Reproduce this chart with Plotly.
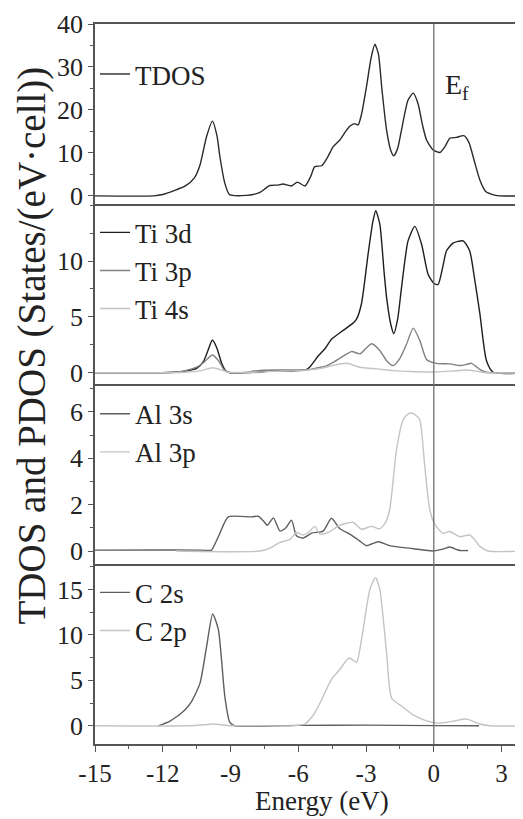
import plotly.graph_objects as go
from plotly.subplots import make_subplots

# ---------------- data ----------------
tdos_e = [-15, -12.4, -12.0, -11.5, -11.0, -10.6, -10.35, -10.06, -9.8, -9.6, -9.47, -9.25, -9.05, -8.8,
          -8.3, -8.0, -7.7, -7.26, -6.9, -6.67, -6.3, -6.04, -5.7, -5.45, -5.27, -4.97, -4.7, -4.46,
          -4.16, -3.9, -3.72, -3.5, -3.35, -3.2, -2.98, -2.78, -2.61, -2.45, -2.3, -2.09, -1.9, -1.77,
          -1.6, -1.43, -1.14, -0.91, -0.7, -0.5, -0.32, -0.03, 0.27, 0.5, 0.71, 1.0, 1.33, 1.55, 1.8,
          2.04, 2.3, 2.6, 2.9, 4]
tdos_v = [0, 0, 0.3, 1.2, 2.3, 4.2, 7.2, 13.8, 17.4, 14.0, 9.1, 2.9, 0.3, 0.05,
          0.1, 0.3, 0.8, 2.4, 2.5, 2.75, 2.3, 3.2, 2.3, 4.5, 6.8, 7.0, 9.0, 11.4,
          13.0, 15.0, 16.2, 16.8, 16.5, 19.0, 25.4, 32.0, 35.3, 33.0, 25.0, 15.3, 10.5, 9.3,
          11.0, 15.3, 22.3, 23.9, 21.5, 16.5, 13.0, 10.7, 10.1, 11.5, 13.4, 13.6, 14.0, 12.5, 8.0,
          3.7, 1.0, 0.3, 0, 0]

ti3d_e = [-15, -12, -11.5, -11, -10.5, -10.2, -10.0, -9.8, -9.6, -9.4, -9.2, -9.0, -8.5, -7.8, -7,
          -6.5, -6, -5.7, -5.5, -5.12, -4.8, -4.53, -4.01, -3.6, -3.42, -3.2, -2.91, -2.7, -2.57,
          -2.39, -2.2, -2.09, -1.9, -1.77, -1.6, -1.43, -1.14, -0.84, -0.54, -0.25, 0.0, 0.19, 0.4,
          0.56, 0.85, 1.3, 1.59, 1.8, 2.04, 2.33, 2.63, 4]
ti3d_v = [0, 0, 0.05, 0.15, 0.4, 1.0, 2.0, 2.93, 2.2, 0.9, 0.15, 0, 0, 0.05, 0.2,
          0.15, 0.2, 0.25, 0.5, 1.5, 2.2, 3.0, 3.8, 4.4, 4.8, 6.2, 10.6, 13.5, 14.5,
          13.3, 9.0, 6.75, 4.3, 3.5, 4.8, 7.6, 11.8, 13.1, 11.5, 8.8, 8.0, 7.9, 9.5,
          10.9, 11.6, 11.8, 10.9, 8.5, 5.3, 1.1, 0.05, 0]

ti3p_e = [-15, -12, -11.5, -11, -10.5, -10.2, -9.8, -9.5, -9.3, -9.1, -8.5, -7.8, -7, -6, -5.5,
          -5.0, -4.75, -4.4, -4.08, -3.64, -3.27, -3.0, -2.75, -2.39, -2.1, -1.8, -1.5, -1.2, -0.91,
          -0.62, -0.32, 0.12, 0.71, 1.15, 1.45, 1.67, 1.85, 2.04, 2.33, 2.6, 4]
ti3p_v = [0, 0, 0.05, 0.2, 0.5, 0.9, 1.6, 1.0, 0.3, 0.05, 0, 0.2, 0.25, 0.25, 0.3,
          0.5, 0.63, 1.0, 1.4, 1.9, 1.7, 2.2, 2.6, 2.0, 1.1, 0.64, 1.3, 2.6, 4.0,
          2.9, 1.2, 0.85, 0.8, 0.65, 0.75, 0.85, 0.6, 0.3, 0.05, 0, 0]

ti4s_e = [-15, -12, -11, -10.3, -9.8, -9.4, -9.1, -8, -7, -6, -5, -4.4, -3.85, -3.27, -2.5, -1.8,
          -1, 0, 0.8, 1.4, 1.9, 2.3, 4]
ti4s_v = [0, 0, 0.05, 0.2, 0.45, 0.25, 0.05, 0.05, 0.15, 0.2, 0.4, 0.7, 0.85, 0.5, 0.35, 0.2,
          0.12, 0.08, 0.15, 0.25, 0.15, 0, 0]

al3s_e = [-15, -10.3, -10.0, -9.84, -9.5, -9.1, -8.07, -7.77, -7.55, -7.37, -7.1, -6.81, -6.55,
          -6.3, -6.08, -5.78, -5.41, -4.9, -4.53, -4.16, -3.72, -3.3, -2.98, -2.46, -1.95, -0.91,
          -0.03, 0.4, 0.71, 1.0, 1.15, 1.52]
al3s_v = [0.04, 0.04, 0.02, 0.04, 0.7, 1.47, 1.47, 1.5, 1.3, 1.11, 1.43, 0.86, 1.0,
          1.33, 0.66, 0.56, 0.77, 0.86, 1.41, 0.96, 0.73, 0.45, 0.23, 0.4, 0.23, 0.1,
          0.0, 0.08, 0.17, 0.07, 0.02, 0.02]

al3p_e = [-11.4, -7.7, -7.2, -6.81, -6.37, -6.08, -5.78, -5.5, -5.27, -5.04, -4.67, -4.16, -3.57,
          -3.2, -2.76, -2.39, -2.15, -1.95, -1.65, -1.36, -1.15, -0.99, -0.8, -0.62, -0.4, -0.18,
          0.04, 0.41, 0.71, 1.15, 1.59, 1.8, 2.04, 2.4, 4]
al3p_v = [0, 0, 0.15, 0.37, 0.5, 0.8, 0.69, 0.85, 1.06, 0.73, 0.8, 1.11, 1.23,
          0.94, 1.06, 0.96, 1.2, 1.8, 4.37, 5.66, 5.9, 5.95, 5.85, 5.66, 3.66, 1.8,
          1.16, 0.76, 0.84, 0.62, 0.69, 0.5, 0.2, 0, 0]

c2s_e = [-12.2, -11.7, -11.39, -11.0, -10.72, -10.35, -10.06, -9.79, -9.54, -9.25, -9.03, -8.8,
         -6, -3, 0, 2]
c2s_v = [0, 0.5, 1.0, 1.8, 2.7, 4.7, 8.7, 12.3, 10.6, 3.2, 0.37, 0, 0.05, 0.08, 0.02, 0]

c2p_e = [-15, -11, -10, -9.8, -9.5, -9, -8, -6.22, -5.71, -5.3, -5.04, -4.53, -4.16, -3.75, -3.42,
         -3.2, -2.83, -2.58, -2.39, -2.09, -1.87, -1.5, -0.91, -0.32, 0.19, 0.85, 1.45, 2.04, 2.48, 4]
c2p_v = [0, 0, 0.15, 0.2, 0.15, 0, 0, 0, 0.2, 1.3, 2.5, 5.1, 6.2, 7.46, 7.0,
         9.5, 15.0, 16.3, 15.0, 8.0, 3.05, 2.3, 1.2, 0.55, 0.3, 0.5, 0.74, 0.2, 0, 0]

x_tick_vals = [-15, -12, -9, -6, -3, 0, 3]
x_tick_text = ["-15", "-12", "-9", "-6", "-3", "0", "3"]
y_ticks = [[0, 10, 20, 30, 40], [0, 5, 10], [0, 2, 4, 6], [0, 5, 10, 15]]

# ---------------- figure ----------------
FONT = "Liberation Serif"
AX = "#555555"
fig = make_subplots(rows=4, cols=1, shared_xaxes=True, vertical_spacing=0)

series = [
    (1, "legend", "TDOS", tdos_e, tdos_v, "#2a2a2a"),
    (2, "legend2", "Ti 3d", ti3d_e, ti3d_v, "#1e1e1e"),
    (2, "legend2", "Ti 3p", ti3p_e, ti3p_v, "#808080"),
    (2, "legend2", "Ti 4s", ti4s_e, ti4s_v, "#c4c4c4"),
    (3, "legend3", "Al 3s", al3s_e, al3s_v, "#5e5e5e"),
    (3, "legend3", "Al 3p", al3p_e, al3p_v, "#c4c4c4"),
    (4, "legend4", "C 2s", c2s_e, c2s_v, "#5e5e5e"),
    (4, "legend4", "C 2p", c2p_e, c2p_v, "#c4c4c4"),
]
for row, leg, name, e, v, col in series:
    fig.add_trace(go.Scatter(x=e, y=v, mode="lines", name=name, legend=leg,
                             line=dict(color=col, width=1.4, shape="spline", smoothing=0.6)),
                  row=row, col=1)

fig.update_xaxes(range=[-15, 3.95], showline=True, linecolor=AX, linewidth=1.5,
                 showgrid=False, zeroline=False, ticks="", showticklabels=False)
fig.update_xaxes(mirror=True, row=1, col=1)
fig.update_xaxes(row=4, col=1, ticks="outside", ticklen=6, tickcolor=AX, tickwidth=1.2,
                 tickvals=x_tick_vals, ticktext=x_tick_text, showticklabels=True,
                 tickfont=dict(family=FONT, size=25, color="#222"),
                 minor=dict(ticks="outside", ticklen=3, dtick=1.5, tick0=-15, tickcolor=AX))

yspecs = [([-1.9, 40], 5), ([-1, 15.1], 2.5), ([-0.56, 7.2], 1), ([-2, 17.8], 2.5)]
for r, (rng, mdt) in enumerate(yspecs, start=1):
    fig.update_yaxes(row=r, col=1, range=rng, tickvals=y_ticks[r - 1], showline=True, linecolor=AX,
                     linewidth=1.5, showgrid=False, zeroline=False, ticks="outside", ticklen=5,
                     tickcolor=AX, tickwidth=1.2,
                     tickfont=dict(family=FONT, size=26, color="#222"),
                     minor=dict(ticks="outside", ticklen=3, dtick=mdt, tick0=0, tickcolor=AX))

fig.add_shape(type="line", xref="x", yref="paper", x0=0, x1=0, y0=0, y1=1,
              line=dict(color="#707070", width=1.3))

fig.add_annotation(xref="x", yref="y", x=0.4, y=25.5, text="E<sub>f</sub>", showarrow=False,
                   xanchor="left", yanchor="middle", font=dict(family=FONT, size=28, color="#222"))
fig.add_annotation(xref="paper", yref="paper", x=-0.148, y=0.553, textangle=-90,
                   text="TDOS and PDOS (States/(eV\u00b7cell))", showarrow=False,
                   xanchor="center", yanchor="middle", font=dict(family=FONT, size=39, color="#222"))
fig.add_annotation(xref="x", yref="paper", x=-4.93, y=-0.0798, text="Energy (eV)", showarrow=False,
                   xanchor="center", yanchor="middle", font=dict(family=FONT, size=27, color="#222"))

legfont = dict(family=FONT, size=27, color="#222")
common = dict(xanchor="left", yanchor="top", bgcolor="rgba(0,0,0,0)", font=legfont,
              borderwidth=0, tracegroupgap=0)
# the page body adds an 8px offset, so the figure is 8px smaller with margins shifted
fig.update_layout(
    width=515, height=811,
    margin=dict(l=87, r=0, t=16, b=75),
    paper_bgcolor="white", plot_bgcolor="white",
    showlegend=True,
    legend=dict(x=0.0, y=0.964, **common),
    legend2=dict(x=0.0, y=0.744, **common),
    legend3=dict(x=0.0, y=0.492, **common),
    legend4=dict(x=0.0, y=0.244, **common),
)

fig.write_html("out.html")
